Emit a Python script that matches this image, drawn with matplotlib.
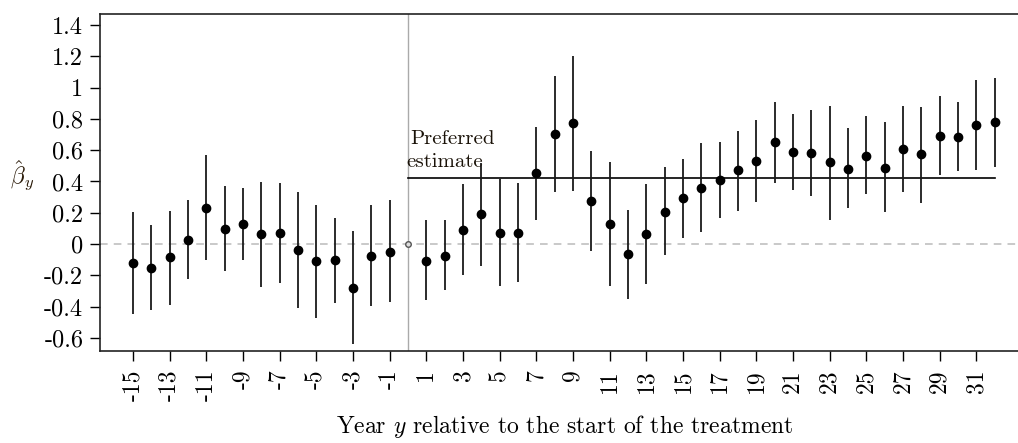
import matplotlib
matplotlib.use('Agg')
import matplotlib.pyplot as plt
import numpy as np

# Estimates by year relative to treatment start (year 0 is the reference)
anos = list(range(-15, 0)) + list(range(1, 33))
beta = [-0.119, -0.153, -0.085, 0.028, 0.232, 0.096, 0.130, 0.062, 0.070, -0.040,
        -0.109, -0.100, -0.279, -0.075, -0.049,
        -0.109, -0.075, 0.087, 0.190, 0.070, 0.070, 0.454, 0.703, 0.771, 0.275,
        0.130, -0.066, 0.062, 0.207, 0.292, 0.360, 0.411, 0.471, 0.530, 0.650,
        0.590, 0.581, 0.522, 0.479, 0.564, 0.488, 0.607, 0.573, 0.692, 0.684,
        0.763, 0.777]
ic_sup = [0.202, 0.124, 0.211, 0.279, 0.569, 0.373, 0.356, 0.398, 0.390, 0.330,
          0.251, 0.166, 0.081, 0.251, 0.279,
          0.151, 0.151, 0.381, 0.518, 0.415, 0.390, 0.748, 1.071, 1.199, 0.594,
          0.526, 0.219, 0.381, 0.492, 0.543, 0.645, 0.654, 0.722, 0.790, 0.909,
          0.833, 0.858, 0.884, 0.739, 0.816, 0.782, 0.884, 0.875, 0.944, 0.909,
          1.046, 1.063]
ic_inf = [-0.447, -0.420, -0.386, -0.226, -0.104, -0.175, -0.104, -0.275, -0.249, -0.411,
          -0.471, -0.377, -0.641, -0.394, -0.368,
          -0.360, -0.292, -0.198, -0.138, -0.266, -0.241, 0.151, 0.332, 0.339, -0.045,
          -0.266, -0.351, -0.258, -0.070, 0.040, 0.075, 0.168, 0.211, 0.270, 0.390,
          0.347, 0.305, 0.151, 0.228, 0.322, 0.202, 0.330, 0.262, 0.441, 0.466,
          0.475, 0.492]
preferido = 0.42
preferido_rango = [0, 32]
ticks_x = list(range(-15, 0, 2)) + list(range(1, 33, 2))
ticks_y = [-0.6, -0.4, -0.2, 0, 0.2, 0.4, 0.6, 0.8, 1, 1.2, 1.4]

plt.rcParams['font.family'] = 'cmr10'
plt.rcParams['mathtext.fontset'] = 'cm'
plt.rcParams['axes.unicode_minus'] = False
plt.rcParams['axes.formatter.use_mathtext'] = True

fig = plt.figure(figsize=(10.18, 4.43), dpi=100)
ax = fig.add_axes([100 / 1018, 1 - 351 / 443, 918 / 1018, 337 / 443])

# Lineas de referencia
ax.axhline(0, color='#bbbbbb', linestyle=(0, (5, 4)), linewidth=1.1, zorder=1)
ax.axvline(0, color='#aaaaaa', linewidth=1.0, zorder=1)
ax.plot(preferido_rango, [preferido, preferido], color='black', linewidth=1.2, zorder=2)

# Intervalos y estimaciones
ax.vlines(anos, ic_inf, ic_sup, color='#1a1a1a', linewidth=1.3, zorder=3)
ax.plot(anos, beta, 'o', color='black', markersize=6, zorder=4)
ax.plot([0], [0], 'o', color='#555555', markerfacecolor='#dddddd', markersize=4, zorder=4)

ax.text(0.11, 0.639, 'Preferred', fontsize=15, ha='left', va='baseline', color='#1a1208')
ax.text(-0.1, 0.492, 'estimate', fontsize=15, ha='left', va='baseline', color='#1a1208')

ax.set_xlim(-16.8, 33.28)
ax.set_ylim(-0.683, 1.47)
ax.set_xticks(ticks_x)
ax.set_xticklabels([str(t) for t in ticks_x], rotation=90, fontsize=17)
ax.set_yticks(ticks_y)
ax.set_yticklabels([('%g' % t) for t in ticks_y], fontsize=17.5)
ax.tick_params(direction='out', length=7, width=1.0)
ax.tick_params(axis='x', pad=6)
ax.tick_params(axis='y', pad=5)

ax.spines['right'].set_visible(False)
for s in ['left', 'bottom', 'top']:
    ax.spines[s].set_linewidth(1.2)
    ax.spines[s].set_color('#222222')

ax.set_xlabel(r'Year $y$ relative to the start of the treatment', fontsize=17, va='center')
ax.xaxis.set_label_coords(0.506, -0.225)
ax.set_ylabel(r'$\hat{\beta}_y$', fontsize=17, rotation=0, va='center', color='#2a1a08')
ax.yaxis.set_label_coords(-0.085, 0.52)

fig.savefig('out.png', dpi=100)
